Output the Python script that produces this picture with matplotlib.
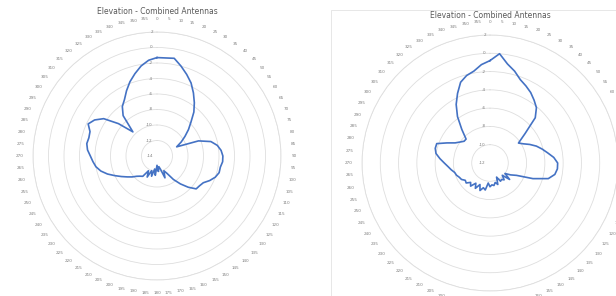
import numpy as np
import matplotlib
matplotlib.use("Agg")
import matplotlib.pyplot as plt
from matplotlib.transforms import ScaledTranslation
from matplotlib.patches import Rectangle

# categories: azimuth in degrees, one point every 5 degrees
angles_deg = list(range(0, 360, 5))

# left chart, dB
left_db = [
    -1.3, -1.3, -1.2, -2.0, -2.8, -3.6, -4.6, -5.6, -6.6, -7.8, -8.7, -9.6,
    -10.4, -11.2, -8.3, -6.8, -6.1, -5.7, -5.5, -5.5, -5.7, -5.7, -6.0, -6.5,
    -7.1, -7.3, -7.4, -8.3, -9.3, -10.3, -11.4, -11.9, -11.0, -12.2, -12.6, -12.0,
    -12.8, -11.5, -12.3, -11.3, -12.0, -11.0, -11.8, -10.8, -10.6, -10.3, -9.8, -9.3,
    -8.7, -8.0, -7.2, -6.5, -6.0, -5.7, -5.4, -5.0, -4.8, -4.9, -4.8, -4.2,
    -4.7, -5.6, -7.5, -9.6, -7.2, -6.2, -5.6, -4.7, -3.8, -3.0, -2.2, -1.6,
]
left_ticks = [2, 0, -2, -4, -6, -8, -10, -12, -14]

# right chart, dB
right_db = [
    -0.8, 0.0, -1.0, -1.6, -2.3, -2.7, -3.1, -3.6, -4.1, -5.0, -7.0, -8.2,
    -7.8, -7.2, -6.6, -6.1, -5.6, -5.0, -4.6, -4.6, -4.8, -5.4, -7.0, -8.8,
    -9.4, -10.0, -9.2, -10.1, -9.6, -9.8, -9.7, -10.3, -9.5, -9.8, -9.5, -9.6,
    -9.4, -9.8, -9.0, -9.2, -8.8, -9.4, -8.8, -9.3, -8.7, -9.0, -8.6, -8.7,
    -8.4, -8.3, -8.1, -8.0, -7.7, -7.4, -7.0, -6.5, -6.0, -5.8, -5.8, -6.8,
    -7.6, -8.0, -8.3, -8.3, -7.2, -5.8, -4.6, -3.6, -2.6, -2.1, -1.8, -1.2,
]
right_ticks = [2, 0, -2, -4, -6, -8, -10, -12]

title = "Elevation - Combined Antennas"
LINE = "#4472C4"
GRID = "#dedede"
TEXT = "#7f7f7f"

W, H = 616, 296
fig = plt.figure(figsize=(W / 100, H / 100), dpi=100)
fig.patch.set_facecolor("white")

# faint chart-area border of the second chart
fig.add_artist(Rectangle((331 / W, -0.1), 0.7, (296 - 10) / H + 0.1,
                         transform=fig.transFigure, fill=False,
                         edgecolor="#e3e3e3", linewidth=0.6))


def radar(cx, cy, rad, values, ticks, title_y):
    ax = fig.add_axes([(cx - rad) / W, (H - cy - rad) / H, 2 * rad / W, 2 * rad / H],
                      projection="polar")
    ax.set_theta_zero_location("N")
    ax.set_theta_direction(-1)
    ax.set_facecolor("none")

    th = np.deg2rad(angles_deg + [angles_deg[0]])
    ax.plot(th, values + [values[0]], color=LINE, lw=1.2, zorder=3)

    ax.set_ylim(min(ticks), max(ticks))
    ax.set_yticks(ticks)
    ax.set_yticklabels([])
    ax.yaxis.grid(True, color=GRID, lw=0.6)
    ax.xaxis.grid(False)
    ax.spines["polar"].set_color(GRID)
    ax.spines["polar"].set_linewidth(0.6)

    ax.set_xticks(np.deg2rad(angles_deg))
    ax.set_xticklabels([str(a) for a in angles_deg], fontsize=3, color=TEXT)
    ax.tick_params(axis="x", pad=2.5, length=0)

    off = ax.transData + ScaledTranslation(-3 / 72, 0, fig.dpi_scale_trans)
    for t in ticks:
        ax.text(0, t, str(t), transform=off, ha="right", va="center",
                fontsize=3, color=TEXT)

    fig.text(cx / W, 1 - title_y / H, title, ha="center", va="center",
             fontsize=5.5, color="#595959")
    return ax


radar(157, 156, 124, left_db, left_ticks, 12)
radar(490, 163, 128, right_db, right_ticks, 15)

fig.savefig("out.png", dpi=100, facecolor="white")
